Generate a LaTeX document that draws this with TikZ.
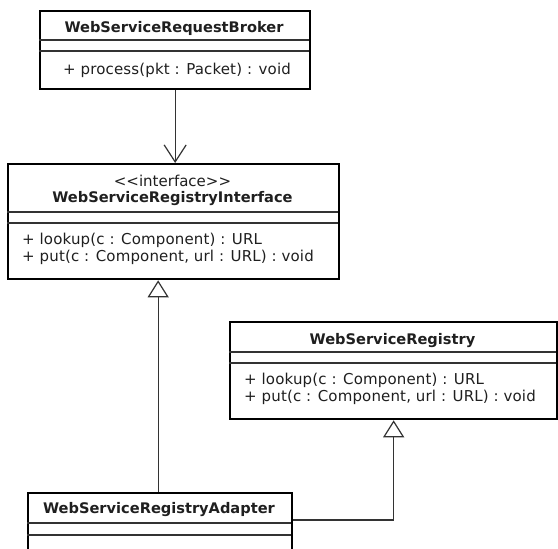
\documentclass[tikz,border=0pt]{standalone}
\usepackage{fontspec}
\setmainfont{DejaVu Sans}
\usetikzlibrary{arrows.meta}
\begin{document}
\begin{tikzpicture}[x=1pt,y=-1pt,
  classbox/.style={draw=black, line width=2.3pt, fill=white, inner sep=0pt, anchor=north west},
  sep/.style={draw=black!80, line width=1.1pt},
  cname/.style={font=\fontsize{14.6}{17}\selectfont\bfseries, anchor=base, inner sep=0pt, text=black!88},
  member/.style={font=\fontsize{15}{17}\selectfont\addfontfeature{LetterSpace=1}, anchor=base west, inner sep=0pt, text=black!88},
  stereo/.style={font=\fontsize{15}{17}\selectfont, anchor=base, inner sep=0pt, text=black!88},
  assoc/.style={draw=black!80, line width=1.2pt, -{Straight Barb[length=17pt,width=22pt]}},
  realize/.style={draw=black!80, line width=1.2pt, -{Triangle[open,length=17pt,width=21pt,fill=white]}},
]
\useasboundingbox (0,0) rectangle (558,549);
\clip (0,0) rectangle (558,549);
\fill[white] (0,0) rectangle (558,549);

% class boxes
\node[classbox, minimum width=270pt, minimum height=78pt]  (broker)   at (39,10)  {};
\node[classbox, minimum width=331pt, minimum height=115pt] (iface)    at (7,163)  {};
\node[classbox, minimum width=327pt, minimum height=97pt]  (registry) at (229,321) {};
\node[classbox, minimum width=264pt, minimum height=75pt]  (adapter)  at (27,492) {};

% compartment separators
\draw[sep] (39,40) -- (309,40);   \draw[sep] (39,51) -- (309,51);
\draw[sep] (7,212) -- (338,212);  \draw[sep] (7,223) -- (338,223);
\draw[sep] (229,352) -- (556,352); \draw[sep] (229,363) -- (556,363);
\draw[sep] (27,523) -- (291,523); \draw[sep] (27,535) -- (291,535);

% names and members
\node[cname]  (brokerName) at (174,32) {WebServiceRequestBroker};
\node[member] (brokerOp)   at (63,74)  {+ process(pkt : Packet) : void};

\node[stereo] (ifaceStereo) at (172.5,186) {{<}{<}interface{>}{>}};
\node[cname]  (ifaceName)   at (172.5,202) {WebServiceRegistryInterface};
\node[member] (ifaceOpA)    at (22,244) {+ lookup(c : Component) : URL};
\node[member] (ifaceOpB)    at (22,261) {+ put(c : Component, url : URL) : void};

\node[cname]  (registryName) at (392.5,344) {WebServiceRegistry};
\node[member] (registryOpA)  at (244,384) {+ lookup(c : Component) : URL};
\node[member] (registryOpB)  at (244,401) {+ put(c : Component, url : URL) : void};

\node[cname]  (adapterName) at (159,513) {WebServiceRegistryAdapter};

% relations
\draw[assoc]   (broker.south) -- (broker.south |- iface.north);
\draw[realize] ([xshift=-2pt]adapter.north) -- ([xshift=-2pt]adapter.north |- iface.south);
\draw[realize] ([yshift=-28pt]adapter.north east) -| (registry.south);
\end{tikzpicture}
\end{document}
